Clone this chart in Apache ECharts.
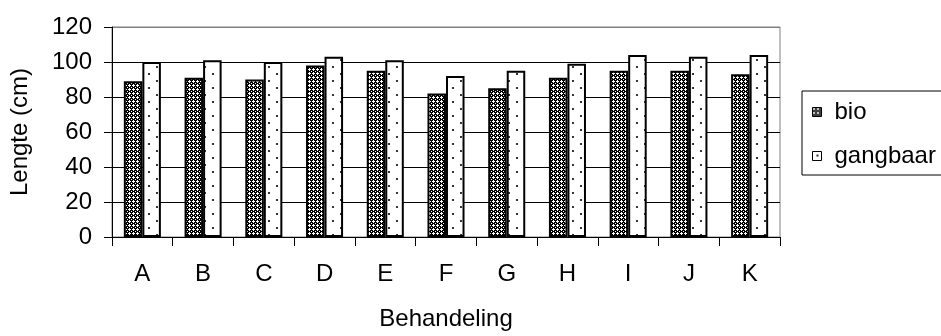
<!DOCTYPE html>
<html>
<head>
<meta charset="utf-8">
<script src="https://cdn.jsdelivr.net/npm/echarts@6/dist/echarts.min.js"></script>
<style>
  html, body { margin: 0; padding: 0; background: #fff; }
  #chart { width: 941px; height: 336px; }
</style>
</head>
<body>
<div id="chart"></div>
<script>
// Plantlengte per behandeling
const categories = ['A', 'B', 'C', 'D', 'E', 'F', 'G', 'H', 'I', 'J', 'K'];
const bio = [89, 91, 90, 98, 95, 82, 85, 91, 95, 95, 93];
const gangbaar = [100, 101, 100, 103, 101, 92, 95, 99, 104, 103, 104];
const yTicks = [0, 20, 40, 60, 80, 100, 120];

const FONT = 'Liberation Sans, Arial, sans-serif';
const FS = 24;

// Fill patterns for the bars
function makeTile(w, h, draw) {
  const c = document.createElement('canvas');
  c.width = w; c.height = h;
  draw(c.getContext('2d'));
  return c;
}
// dark cross-hatch with small white crosses
const hatchTile = makeTile(4, 4, function (ctx) {
  ctx.fillStyle = '#000';
  ctx.fillRect(0, 0, 4, 4);
  ctx.fillStyle = '#fff';
  ctx.fillRect(1, 0, 1, 3);
  ctx.fillRect(0, 1, 3, 1);
  ctx.fillRect(3, 3, 1, 1);
});
// white with sparse dots
const dotTile = makeTile(16, 14, function (ctx) {
  ctx.fillStyle = '#fff';
  ctx.fillRect(0, 0, 16, 14);
  ctx.fillStyle = '#333';
  ctx.fillRect(4, 3, 2, 2);
  ctx.fillRect(12, 10, 2, 2);
});

const chart = echarts.init(document.getElementById('chart'), null, { renderer: 'canvas' });

chart.setOption({
  animation: false,
  backgroundColor: '#fff',
  textStyle: { fontFamily: FONT, color: '#000' },
  grid: {
    left: 112, right: 161, top: 27, bottom: 95,
    show: true, borderColor: '#808080', borderWidth: 1, backgroundColor: '#fff'
  },
  legend: {
    orient: 'vertical',
    left: 802, top: 91,
    padding: [9, 60, 7, 10],
    itemGap: 20,
    itemWidth: 9, itemHeight: 9,
    icon: 'rect',
    borderColor: '#000', borderWidth: 1,
    backgroundColor: '#fff',
    itemStyle: { borderWidth: 1, borderColor: '#000' },
    textStyle: { fontFamily: FONT, fontSize: FS, color: '#000', padding: [0, 0, 0, 8] },
    data: ['bio', 'gangbaar']
  },
  xAxis: {
    type: 'category',
    data: categories,
    name: 'Behandeling',
    nameLocation: 'middle',
    nameGap: 70,
    nameTextStyle: { fontFamily: FONT, fontSize: FS, color: '#000' },
    axisLine: { lineStyle: { color: '#000', width: 1 } },
    axisTick: { show: true, length: 9, inside: false, lineStyle: { color: '#000' } },
    axisLabel: { margin: 25, fontFamily: FONT, fontSize: FS, color: '#000' },
    splitLine: { show: false }
  },
  yAxis: {
    type: 'value',
    min: yTicks[0],
    max: yTicks[yTicks.length - 1],
    interval: yTicks[1] - yTicks[0],
    name: 'Lengte (cm)',
    nameLocation: 'middle',
    nameGap: 80,
    nameTextStyle: { fontFamily: FONT, fontSize: FS, color: '#000' },
    axisLine: { show: true, lineStyle: { color: '#000', width: 1 } },
    axisTick: { show: true, length: 8, inside: false, lineStyle: { color: '#000' } },
    axisLabel: { margin: 20, fontFamily: FONT, fontSize: FS, color: '#000' },
    splitLine: {
      show: true,
      lineStyle: { color: ['#000', '#000', '#000', '#000', '#000', '#000', '#808080'], width: 1 }
    }
  },
  series: [
    {
      name: 'bio',
      type: 'bar',
      data: bio,
      barGap: '0%',
      barCategoryGap: '39%',
      itemStyle: {
        color: { image: hatchTile, repeat: 'repeat' },
        borderColor: '#000',
        borderWidth: 2
      }
    },
    {
      name: 'gangbaar',
      type: 'bar',
      data: gangbaar,
      barGap: '0%',
      barCategoryGap: '39%',
      itemStyle: {
        color: { image: dotTile, repeat: 'repeat' },
        borderColor: '#000',
        borderWidth: 2
      }
    }
  ]
});
</script>
</body>
</html>
